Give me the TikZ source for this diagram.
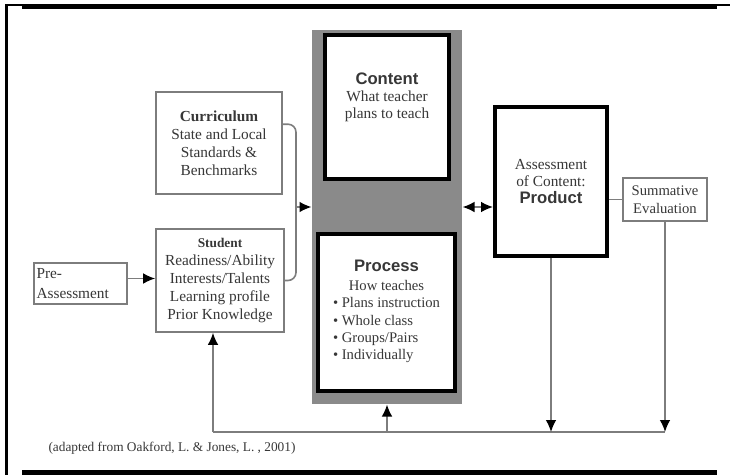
\documentclass[tikz,border=0pt]{standalone}
\usepackage{fontspec}
\setmainfont{Liberation Serif}
\newfontfamily\headfont{Liberation Sans}
\usepackage{tikz}
\usetikzlibrary{arrows.meta,calc}
\definecolor{colgray}{RGB}{138,138,138}
\definecolor{linegray}{RGB}{125,125,125}
\definecolor{txtgray}{RGB}{55,55,55}
\tikzset{every picture/.style={line width=0.75pt}}
\tikzset{
  thinbox/.style={draw=linegray, line width=1.2pt, fill=white, inner sep=0pt, align=center, text=txtgray, font=\fontsize{11.5}{13.5}\selectfont},
  thickbox/.style={draw=black, line width=3pt, fill=white, inner sep=0pt, align=center, text=txtgray, font=\fontsize{11.5}{13}\selectfont},
  link/.style={draw=linegray, line width=1.2pt},
  arr/.style={link, -{Latex[length=9pt,width=8pt,color=black]}},
  dblarr/.style={link, {Latex[length=9pt,width=8pt,color=black]}-{Latex[length=9pt,width=8pt,color=black]}}
}
\newcommand{\hd}[1]{{\headfont\bfseries\fontsize{12.5}{14}\selectfont #1}}
\begin{document}
\begin{tikzpicture}[x=0.75pt,y=0.75pt,yscale=-1,xscale=1]
\useasboundingbox (0,0) rectangle (730,475);
% frame
\fill (5,4) rectangle (8,475);
\fill (5,4) rectangle (730,5.5);
\fill (22,4) rectangle (717,8.5);
\fill (22,469.5) rectangle (717,475);
% grey column
\node [fill=colgray, minimum width=112.5pt, minimum height=280.5pt, inner sep=0pt] (column) at (387,217) {};
\node [thickbox, minimum width=93pt, minimum height=108pt] (content) at (387,107) {};
\node [text=txtgray, align=center, font=\fontsize{11.5}{12.75}\selectfont] (contentlbl) at (387,97) {\hd{Content}\\What teacher\\plans to teach};
\node [thickbox, minimum width=102.75pt, minimum height=117.75pt, font=\fontsize{11}{13}\selectfont] (process) at (386.5,312.5)
  {\begin{tabular}{@{}l@{}}\multicolumn{1}{@{}c@{}}{\hd{Process}}\\[1pt]\multicolumn{1}{@{}c@{}}{How teaches}\\ \textbullet\ Plans instruction\\ \textbullet\ Whole class\\ \textbullet\ Groups/Pairs\\ \textbullet\ Individually\end{tabular}};
% left boxes
\node [thinbox, minimum width=94.5pt, minimum height=76.5pt] (curr) at (219,143) {\textbf{Curriculum}\\State and Local\\Standards \&\\Benchmarks};
\node [thinbox, minimum width=96pt, minimum height=77.25pt] (stud) at (220,280.5) {{\bfseries\fontsize{10}{12}\selectfont Student}\\Readiness/Ability\\Interests/Talents\\Learning profile\\Prior Knowledge};
\node [thinbox, minimum width=69.75pt, minimum height=30.75pt, text width=66pt, align=left, font=\fontsize{11.5}{15.5}\selectfont] (pre) at (80.5,283.5) {Pre-\\Assessment};
% right boxes
\node [thickbox, minimum width=84pt, minimum height=111.75pt] (prod) at (551,181.5) {Assessment\\of Content:\\\hd{Product}};
\node [thinbox, minimum width=63pt, minimum height=32.25pt, font=\fontsize{11}{13.5}\selectfont] (summ) at (665,199.5) {Summative\\Evaluation};
\node [anchor=west, text=txtgray, inner sep=0pt, font=\fontsize{10}{12}\selectfont] (cite) at (48,448) {(adapted from Oakford, L. \& Jones, L. , 2001)};
% connectors
\coordinate (brace) at (296,207);
\coordinate (fb) at (213,432);
\draw [arr] ($(pre.east)+(0,-5)$) -- (stud.west |- {$(pre.east)+(0,-5)$});
\draw [link, rounded corners=6pt] ($(curr.north east)+(0,33)$) -| (brace) |- (stud.east);
\draw [arr] (brace) -- (column.west |- brace);
\draw [dblarr] (column.east |- brace) -- (prod.west |- brace);
\draw [link] (prod.east |- summ.west) -- (summ.west);
\draw [link] (fb) -- (summ.south |- fb);
\draw [arr] (fb) -- (fb |- stud.south);
\draw [arr] (column.south |- fb) -- (column.south);
\draw [arr] (prod.south) -- (prod.south |- fb);
\draw [arr] (summ.south) -- (summ.south |- fb);
\end{tikzpicture}
\end{document}
